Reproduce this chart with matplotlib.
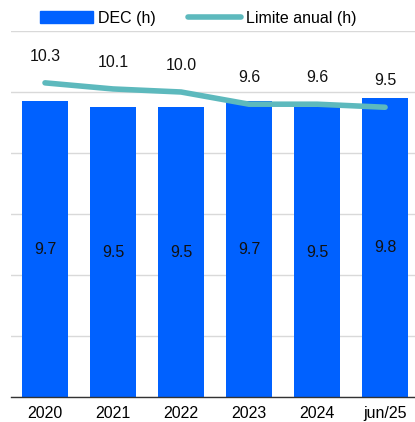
import matplotlib
matplotlib.use("Agg")
import matplotlib.pyplot as plt
from matplotlib.lines import Line2D
from matplotlib.patches import Patch

categories = ["2020", "2021", "2022", "2023", "2024", "jun/25"]
dec_values = [9.7, 9.5, 9.5, 9.7, 9.5, 9.8]
limite_values = [10.3, 10.1, 10.0, 9.6, 9.6, 9.5]

plt.rcParams['font.family'] = ['Liberation Sans', 'DejaVu Sans']

bar_color = "#0061FF"
line_color = "#5DB9BD"

fig = plt.figure(figsize=(4.15, 4.22), dpi=100)
ax = fig.add_axes([11/415, 25/422, 1 - 11/415, (397-31)/422])

x = list(range(len(categories)))
ax.bar(x, dec_values, width=0.68, color=bar_color, zorder=2)
ax.plot(x, limite_values, color=line_color, linewidth=4, solid_capstyle='round', zorder=3)

for xi, v in zip(x, dec_values):
    ax.text(xi, v / 2, f"{v:.1f}", ha='center', va='center', fontsize=11.5, color='#111111', zorder=4)
for xi, v in zip(x, limite_values):
    ax.text(xi, v + 0.88, f"{v:.1f}", ha='center', va='center', fontsize=11.5, color='#111111', zorder=4)

ax.set_xlim(-0.5, 5.44)
ax.set_ylim(0, 12)
ax.set_yticks([0, 2, 4, 6, 8, 10, 12])
ax.yaxis.grid(True, color='#d9d9d9', linewidth=1)
ax.set_axisbelow(True)
ax.tick_params(axis='y', left=False, labelleft=False)
ax.tick_params(axis='x', bottom=False, labelsize=11.5, pad=3)
ax.set_xticks(x)
ax.set_xticklabels(categories)
for s in ['top', 'right', 'left']:
    ax.spines[s].set_visible(False)
ax.spines['bottom'].set_color('#333333')
ax.spines['bottom'].set_linewidth(1)

handles = [Patch(color=bar_color, label="DEC (h)"),
           Line2D([0], [0], color=line_color, linewidth=4, solid_capstyle='round', label="Limite anual (h)")]
fig.legend(handles=handles, loc='center', bbox_to_anchor=(0.478, 1 - 18/422), ncol=2,
           frameon=False, fontsize=11.5, handlelength=3.3, handleheight=0.72, columnspacing=2.0,
           handletextpad=0.35)

fig.savefig("out.png", dpi=100)
